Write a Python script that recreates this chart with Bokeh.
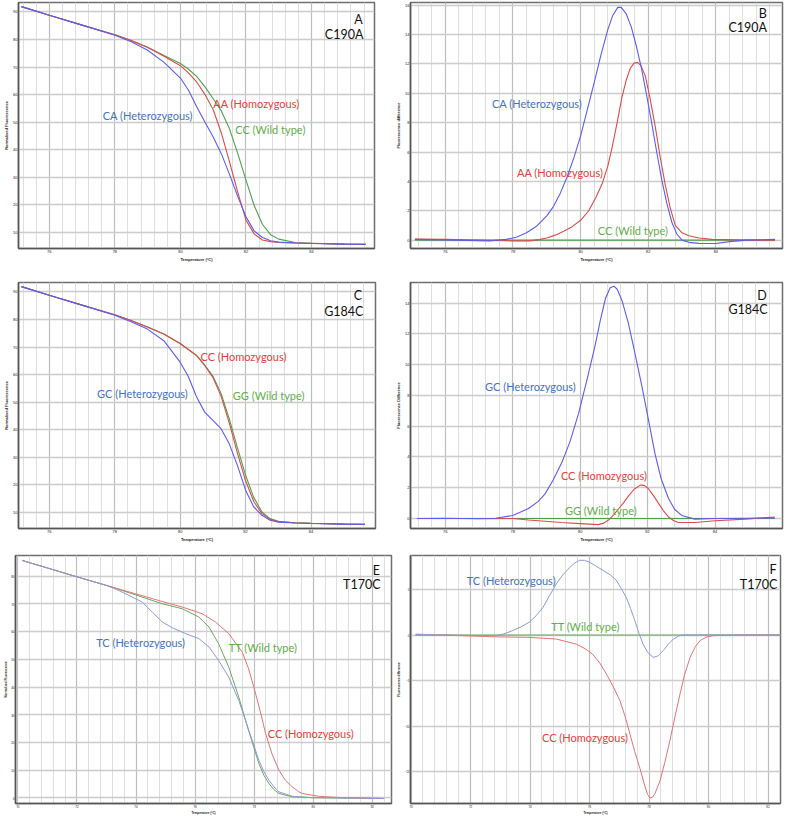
import numpy as np
from bokeh.plotting import figure
from bokeh.layouts import column, row
from bokeh.models import Label, FixedTicker, Range1d
from bokeh.embed import file_html
from bokeh.resources import INLINE

# ---------------- data ----------------
# Panel A : C190A normalised melting curves
a_t = [75.15, 76, 77, 78, 78.5, 79, 79.5, 80, 80.25, 80.5, 80.75, 81, 81.25, 81.5, 81.75,
       82, 82.25, 82.5, 82.75, 83, 83.5, 84, 85, 85.65]
a_ca = [91.9, 88.8, 85.2, 81.5, 79.2, 76.1, 71.7, 66.0, 61.5, 55.5, 50.0, 44.6, 38.5, 31.0, 23.0,
        15.7, 10.6, 8.2, 7.0, 6.5, 6.2, 6.0, 5.8, 5.7]
a_aa = [91.9, 88.8, 85.2, 81.7, 79.6, 77.1, 73.9, 70.5, 67.8, 64.5, 60.0, 54.5, 46.0, 35.5, 24.5,
        14.5, 9.5, 7.3, 6.7, 6.4, 6.2, 6.1, 5.8, 5.7]
a_cc = [91.9, 88.8, 85.2, 81.7, 79.6, 77.2, 74.2, 71.3, 69.2, 66.5, 62.8, 58.5, 54.0, 47.5, 38.6,
        29.0, 19.8, 13.0, 9.2, 7.6, 6.4, 6.1, 5.8, 5.7]

# Panel B : C190A difference curves
b_ca_t = [75.1, 76, 77, 77.3, 77.8, 78.1, 78.4, 78.7, 79.0, 79.2, 79.4, 79.6, 79.8, 80.0, 80.2,
          80.4, 80.6, 80.8, 80.95, 81.1, 81.2, 81.35, 81.5, 81.65, 81.8, 81.95, 82.1, 82.25,
          82.4, 82.55, 82.7, 82.85, 83.0, 83.2, 83.5, 84.0, 84.4, 84.9, 85.75]
b_ca = [0.05, 0.02, -0.04, -0.05, 0.05, 0.2, 0.5, 0.95, 1.65, 2.3, 3.2, 4.3, 5.6, 7.1, 8.9,
        10.7, 12.6, 14.3, 15.3, 15.85, 15.85, 15.4, 14.5, 13.2, 11.7, 9.9, 8.0, 6.0,
        4.1, 2.5, 1.2, 0.4, 0.0, -0.15, -0.22, -0.23, -0.1, 0.0, 0.05]
b_aa_t = [75.1, 76, 77, 78, 78.5, 78.8, 79.0, 79.25, 79.5, 79.74, 80.0, 80.24, 80.45, 80.63,
          80.8, 80.93, 81.08, 81.22, 81.35, 81.47, 81.58, 81.68, 81.78, 81.91, 82.05, 82.21,
          82.35, 82.5, 82.65, 82.8, 83.0, 83.2, 83.5, 83.88, 85, 85.75]
b_aa = [0.07, 0.05, 0.0, -0.05, -0.05, 0.05, 0.15, 0.34, 0.6, 0.9, 1.35, 2.0, 2.9, 3.8,
        5.0, 6.3, 8.0, 9.7, 10.9, 11.7, 12.05, 12.1, 11.9, 11.2, 9.7, 7.7,
        5.7, 3.8, 2.2, 1.0, 0.5, 0.3, 0.15, 0.05, 0.0, 0.0]
b_cc_t = [75.1, 78, 80, 82, 84, 85.75]
b_cc = [0, 0, 0, 0, 0, 0]

# Panel C : G184C normalised melting curves
c_gc_t = [75.15, 76, 77, 78, 78.5, 79, 79.5, 80, 80.25, 80.5, 80.75, 81, 81.25, 81.5, 81.75,
          82, 82.25, 82.5, 82.75, 83, 83.5, 84, 85, 85.65]
c_gc = [91.9, 88.8, 85.2, 81.5, 79.2, 76.5, 72.3, 64.5, 59.3, 52.0, 46.4, 43.4, 40.4, 34.9, 27.1,
        18.1, 12.0, 9.0, 7.2, 6.5, 6.2, 6.0, 5.8, 5.7]
c_t = [75.15, 76, 77, 78, 78.5, 79, 79.5, 80, 80.5, 80.75, 81, 81.25, 81.5, 81.75, 82, 82.25,
       82.5, 82.75, 83, 83.5, 84, 85, 85.65]
c_cc = [91.9, 88.8, 85.2, 81.7, 79.6, 77.3, 74.7, 71.3, 66.9, 63.3, 59.0, 52.2, 42.5, 31.5, 21.5,
        14.0, 9.6, 7.5, 6.7, 6.3, 6.1, 5.8, 5.7]
c_gg = [91.9, 88.8, 85.2, 81.7, 79.6, 77.3, 74.7, 71.3, 67.0, 63.5, 59.5, 53.2, 44.0, 33.5, 23.5,
        15.4, 10.2, 7.8, 6.8, 6.3, 6.1, 5.8, 5.7]

# Panel D : G184C difference curves
d_gc_t = [75.16, 76, 77, 77.5, 78.0, 78.47, 78.75, 78.96, 79.2, 79.45, 79.7, 79.95, 80.2, 80.44,
          80.6, 80.75, 80.89, 81.0, 81.1, 81.25, 81.43, 81.6, 81.83, 82.0, 82.22, 82.4, 82.62,
          82.8, 83.01, 83.4, 84, 85, 85.77]
d_gc = [0, 0, 0, 0.02, 0.2, 0.65, 1.1, 1.6, 2.5, 3.6, 5.0, 6.8, 9.0, 11.2,
        12.9, 14.3, 15.0, 15.1, 14.9, 14.1, 12.7, 11.0, 8.6, 6.7, 4.2, 2.6, 1.3,
        0.6, 0.2, -0.04, 0, 0.02, 0.04]
d_cc_t = [75.16, 76, 77, 78, 78.47, 79.45, 80, 80.54, 80.7, 80.84, 81.0, 81.13, 81.28, 81.43,
          81.6, 81.78, 81.9, 82.02, 82.17, 82.32, 82.47, 82.62, 82.78, 82.91, 83.4, 84, 84.9, 85.77]
d_cc = [0, 0.02, -0.02, 0, -0.1, -0.26, -0.33, -0.4, -0.3, -0.1, 0.25, 0.6, 1.0, 1.45,
        1.9, 2.17, 2.15, 1.95, 1.5, 1.0, 0.5, 0.1, -0.15, -0.26, -0.26, -0.15, -0.04, 0.1]
d_gg_t = [75.16, 78, 80, 82, 84, 85.77]
d_gg = [0, 0, 0, 0, 0, 0]

# Panel E : T170C normalised melting curves
e_tc_t = [70.15, 71, 72, 73, 73.35, 73.76, 74.21, 74.55, 74.89, 75.23, 75.68, 76.13, 76.47, 76.8,
          77.14, 77.48, 77.82, 78.16, 78.33, 78.5, 78.67, 78.84, 79.29, 79.97, 81, 82.4]
e_tc = [85.7, 83.0, 79.8, 76.7, 75.2, 73.1, 70.7, 67.1, 63.5, 61.4, 59.3, 57.5, 54.5, 49.6,
        43.6, 35.2, 24.4, 13.6, 9.5, 6.4, 4.0, 2.2, 0.6, 0.1, 0.0, -0.2]
e_tt_t = [70.15, 71, 72, 73, 73.98, 74.89, 75.56, 76.13, 76.47, 76.8, 77.14, 77.48, 77.82, 78.16,
          78.33, 78.5, 78.67, 78.84, 79.29, 79.97, 81, 82.4]
e_tt = [85.7, 83.0, 79.8, 76.7, 73.3, 70.1, 68.3, 65.3, 61.7, 55.6, 47.2, 36.4, 24.0, 12.4,
        8.2, 5.2, 3.0, 1.6, 0.4, 0.1, 0.0, -0.2]
e_cc_t = [70.15, 71, 72, 73, 73.98, 74.89, 75.56, 76.24, 76.69, 77.14, 77.6, 77.8, 77.99, 78.2,
          78.39, 78.6, 78.84, 79.05, 79.29, 79.5, 79.63, 80.19, 81, 82.4]
e_cc = [85.7, 83.0, 79.8, 76.7, 73.7, 70.9, 68.9, 66.5, 63.5, 59.3, 52.6, 47.0, 40.0, 31.5,
        23.2, 16.0, 10.0, 6.5, 4.0, 2.3, 1.6, 0.6, 0.1, -0.2]

# Panel F : T170C difference curves
f_tc_t = [70.15, 71, 72, 72.85, 73.1, 73.41, 73.7, 73.97, 74.2, 74.43, 74.65, 74.88, 75.1, 75.33,
          75.5, 75.66, 75.83, 76.0, 76.2, 76.45, 76.7, 76.9, 77.05, 77.24, 77.38, 77.52, 77.66,
          77.8, 77.95, 78.14, 78.3, 78.48, 78.65, 78.82, 79.0, 79.16, 80, 81, 82.42]
f_tc = [0.1, 0.0, -0.05, -0.07, 0.1, 0.48, 0.9, 1.4, 2.1, 3.0, 4.3, 5.6, 6.6, 7.4,
        7.9, 8.2, 8.2, 8.0, 7.6, 7.1, 6.6, 6.0, 5.2, 4.1, 2.9, 1.6, 0.2,
        -1.0, -1.9, -2.45, -2.3, -1.7, -1.0, -0.44, -0.1, 0.0, 0.0, 0.0, 0.0]
f_cc_t = [70.15, 71, 72.85, 73.97, 74.88, 75.55, 75.85, 76.1, 76.35, 76.57, 76.8, 77.02, 77.2,
          77.36, 77.52, 77.69, 77.86, 77.95, 78.03, 78.12, 78.2, 78.37, 78.53, 78.7, 78.87,
          79.04, 79.2, 79.38, 79.55, 79.72, 79.95, 80.17, 81, 82.42]
f_cc = [0, 0, -0.2, -0.26, -0.44, -1.0, -1.5, -2.1, -3.1, -4.3, -5.7, -7.2, -9.0,
        -10.9, -12.8, -14.6, -16.6, -17.5, -17.9, -17.8, -17.4, -16.0, -14.0, -11.6, -9.0,
        -6.5, -4.3, -2.46, -1.3, -0.6, -0.2, -0.07, 0, 0]
f_tt_t = [70.15, 74, 78, 82.42]
f_tt = [0, 0, 0, 0]

# tick labels
ab_xticks = [76, 78, 80, 82, 84]
norm_yticks = [10, 20, 30, 40, 50, 60, 70, 80, 90]
b_yticks = [0, 2, 4, 6, 8, 10, 12, 14, 16]
d_yticks = [0, 2, 4, 6, 8, 10, 12, 14]
ef_xticks = [70, 72, 74, 76, 78, 80, 82]
e_yticks = [0, 10, 20, 30, 40, 50, 60, 70, 80]
f_yticks = [-15, -10, -5, 0, 5]

# ---------------- styling ----------------
BLUE_L, RED_L, GREEN_L = "#5c5cf2", "#e04a4a", "#4ea04e"
BLUE_T, RED_T, GREEN_T = "#4472c4", "#e8403a", "#5fae4a"
BLUE_E, RED_E, GREEN_E = "#8e98d6", "#e27474", "#6aa860"
FONT = "Lato"
LBL = "11px"
TAG = "12.5px"


def make_fig(fw, fh, bl, br, bt, bb, xr, yr, xticks, yticks, xminor, ylab, fs, lstand, astand):
    p = figure(frame_width=fw, frame_height=fh, x_range=Range1d(*xr), y_range=Range1d(*yr),
               output_backend="svg", toolbar_location=None,
               min_border_left=bl, min_border_right=br, min_border_top=bt, min_border_bottom=bb)
    p.background_fill_color = "white"
    p.border_fill_color = "white"
    p.outline_line_color = "#6e6e6e"
    p.outline_line_width = 1.5
    p.xaxis.ticker = FixedTicker(ticks=xticks, minor_ticks=xminor)
    p.yaxis.ticker = FixedTicker(ticks=yticks)
    p.xgrid.grid_line_color = "#bdbdbd"
    p.xgrid.grid_line_width = 1.2
    p.xgrid.minor_grid_line_color = "#dedede"
    p.xgrid.minor_grid_line_width = 1
    p.ygrid.grid_line_color = "#cccccc"
    p.ygrid.grid_line_width = 1.5
    for ax in (p.xaxis[0], p.yaxis[0]):
        ax.axis_line_color = "#555555"
        ax.axis_line_width = 1.5
        ax.major_tick_line_color = None
        ax.minor_tick_line_color = None
        ax.major_tick_out = 0
        ax.major_tick_in = 0
        ax.minor_tick_out = 0
        ax.minor_tick_in = 0
        ax.major_label_text_font_size = fs
        ax.major_label_text_font = "Liberation Sans"
        ax.major_label_text_color = "#222222"
        ax.axis_label_text_font_size = fs
        ax.axis_label_text_font = "Liberation Sans"
        ax.axis_label_text_font_style = "bold"
        ax.axis_label_text_color = "#222222"
        ax.major_label_standoff = lstand
        ax.axis_label_standoff = astand
    p.xaxis.axis_label = "Temperature (°C)"
    p.yaxis.axis_label = ylab
    return p


def add_label(p, x, y, text, color, align="left", size=LBL):
    p.add_layout(Label(x=x, y=y, text=text, text_color=color, text_font=FONT,
                       text_font_size=size, text_align=align, text_baseline="middle"))


def minor(lo, hi, base):
    return [round(base + 0.4 * k, 2) for k in range(int((lo - base) / 0.4) - 1, int((hi - base) / 0.4) + 2)]


ab_minor = minor(74.8, 86.0, 76)
ef_minor = minor(69.6, 82.8, 70)

# ---- A ----
pA = make_fig(356, 246, 18, 18, 2, 28, (75.06, 85.92), (4.2, 93.4), ab_xticks, norm_yticks,
              ab_minor, "Normalised Fluorescence", "4px", 1, 1)
pA.line(a_t, a_cc, color=GREEN_L, line_width=1.1)
pA.line(a_t, a_aa, color=RED_L, line_width=1.1)
pA.line(a_t, a_ca, color=BLUE_L, line_width=1.1)
add_label(pA, 77.63, 52.4, "CA (Heterozygous)", BLUE_T)
add_label(pA, 81.0, 56.6, "AA (Homozygous)", RED_T)
add_label(pA, 81.67, 47.2, "CC (Wild type)", GREEN_T)
add_label(pA, 85.56, 87.3, "A", "#111111", "right", TAG)
add_label(pA, 85.58, 81.9, "C190A", "#111111", "right", TAG)

# ---- B ----
pB = make_fig(372, 246, 18, 4, 2, 28, (74.97, 85.97), (-0.57, 16.18), ab_xticks, b_yticks,
              ab_minor, "Fluorescence difference", "4px", 1, 1)
pB.line(b_cc_t, b_cc, color=GREEN_L, line_width=1.1)
pB.line(b_aa_t, b_aa, color=RED_L, line_width=1.1)
pB.line(b_ca_t, b_ca, color=BLUE_L, line_width=1.1)
add_label(pB, 77.38, 9.3, "CA (Heterozygous)", BLUE_T)
add_label(pB, 78.12, 4.6, "AA (Homozygous)", RED_T)
add_label(pB, 80.51, 0.68, "CC (Wild type)", GREEN_T)
add_label(pB, 85.51, 15.4, "B", "#111111", "right", TAG)
add_label(pB, 85.51, 14.45, "C190A", "#111111", "right", TAG)

# ---- C ----
pC = make_fig(357, 246, 18, 17, 6, 23, (75.06, 85.97), (4.2, 93.4), ab_xticks, norm_yticks,
              ab_minor, "Normalised Fluorescence", "4px", 1, 1)
pC.line(c_t, c_gg, color=GREEN_L, line_width=1.1)
pC.line(c_t, c_cc, color=RED_L, line_width=1.1)
pC.line(c_gc_t, c_gc, color=BLUE_L, line_width=1.1)
add_label(pC, 80.62, 66.5, "CC (Homozygous)", RED_T)
add_label(pC, 81.61, 52.4, "GG (Wild type)", GREEN_T)
add_label(pC, 77.46, 53.0, "GC (Heterozygous)", BLUE_T)
add_label(pC, 85.56, 88.6, "C", "#111111", "right", TAG)
add_label(pC, 85.6, 82.9, "G184C", "#111111", "right", TAG)

# ---- D ----
pD = make_fig(372, 246, 18, 4, 6, 23, (74.97, 86.0), (-0.65, 15.34), ab_xticks, d_yticks,
              ab_minor, "Fluorescence Difference", "4px", 1, 1)
pD.line(d_gg_t, d_gg, color=GREEN_L, line_width=1.1)
pD.line(d_cc_t, d_cc, color=RED_L, line_width=1.1)
pD.line(d_gc_t, d_gc, color=BLUE_L, line_width=1.1)
add_label(pD, 77.18, 8.57, "GC (Heterozygous)", BLUE_T)
add_label(pD, 79.43, 2.78, "CC (Homozygous)", RED_T)
add_label(pD, 79.55, 0.54, "GG (Wild type)", GREEN_T)
add_label(pD, 85.53, 14.5, "D", "#111111", "right", TAG)
add_label(pD, 85.56, 13.56, "G184C", "#111111", "right", TAG)

# ---- E ----
pE = make_fig(376, 248, 13, 3, 4, 13, (69.92, 82.65), (-2.0, 87.5), ef_xticks, e_yticks,
              ef_minor, "Normalised Fluorescence", "3px", 1, 1)
pE.line(e_tt_t, e_tt, color=GREEN_E, line_width=1)
pE.line(e_cc_t, e_cc, color=RED_E, line_width=1)
pE.line(e_tc_t, e_tc, color=BLUE_E, line_width=1)
add_label(pE, 72.65, 56.25, "TC (Heterozygous)", BLUE_T)
add_label(pE, 77.14, 54.4, "TT (Wild type)", GREEN_T)
add_label(pE, 78.46, 23.4, "CC (Homozygous)", RED_T)
add_label(pE, 82.26, 82.1, "E", "#111111", "right", TAG)
add_label(pE, 82.28, 77.0, "T170C", "#111111", "right", TAG)

# ---- F ----
pF = make_fig(370, 248, 16, 8, 4, 13, (69.98, 82.42), (-18.5, 8.73), ef_xticks, f_yticks,
              ef_minor, "Fluorescence difference", "3px", 1, 1)
pF.line(f_tt_t, f_tt, color=GREEN_E, line_width=1)
pF.line(f_cc_t, f_cc, color=RED_E, line_width=1)
pF.line(f_tc_t, f_tc, color=BLUE_E, line_width=1)
add_label(pF, 71.87, 5.98, "TC (Heterozygous)", BLUE_T)
add_label(pF, 74.71, 0.92, "TT (Wild type)", GREEN_T)
add_label(pF, 74.4, -11.3, "CC (Homozygous)", RED_T)
add_label(pF, 82.29, 7.16, "F", "#111111", "right", TAG)
add_label(pF, 82.31, 5.6, "T170C", "#111111", "right", TAG)

layout = column(row(pA, pB), row(pC, pD), row(pE, pF))
open("out.html", "w").write(file_html(layout, INLINE))
